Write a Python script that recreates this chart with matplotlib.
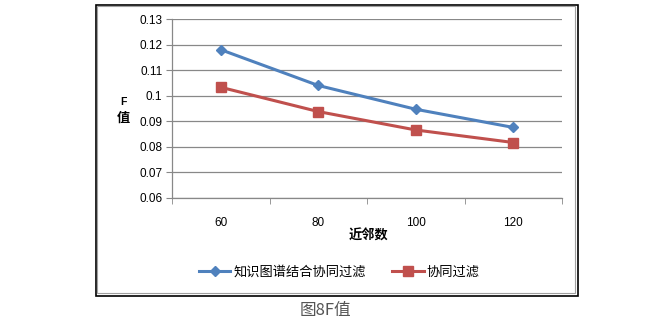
import matplotlib
matplotlib.use('Agg')
import matplotlib.pyplot as plt
from matplotlib.patches import Rectangle

# neighbour counts and F values for the two methods
neighbors = ['60', '80', '100', '120']
kg_cf = [0.118, 0.104, 0.0947, 0.0876]
cf = [0.1033, 0.0938, 0.0866, 0.0817]
yticks = [0.06, 0.07, 0.08, 0.09, 0.1, 0.11, 0.12, 0.13]
ytick_labels = ['0.06', '0.07', '0.08', '0.09', '0.1', '0.11', '0.12', '0.13']

CJK = ['Noto Sans CJK SC', 'DejaVu Sans']
NUM = ['Liberation Sans', 'DejaVu Sans']
W, H = 670, 324

fig = plt.figure(figsize=(W / 100, H / 100), dpi=100, facecolor='white')

# outer frame with a thin grey inner edge
fig.add_artist(Rectangle((96 / W, 1 - 296 / H), 482 / W, 291 / H, transform=fig.transFigure,
                         fill=False, edgecolor='black', lw=1.2))
fig.add_artist(Rectangle((97 / W, 1 - 293 / H), 478 / W, 287 / H, transform=fig.transFigure,
                         fill=False, edgecolor='#a0a0a0', lw=0.8))

ax = fig.add_axes([172 / W, 1 - 198 / H, 390 / W, 179 / H])
x = list(range(len(neighbors)))
ax.plot(x, kg_cf, color='#4F81BD', lw=2.2, marker='D', ms=5.5, label='知识图谱结合协同过滤')
ax.plot(x, cf, color='#C0504D', lw=2.2, marker='s', ms=6.5, label='协同过滤')

ax.set_xlim(-0.5, len(neighbors) - 0.5)
ax.set_ylim(0.06, 0.13)
ax.set_yticks(yticks)
ax.set_yticklabels(ytick_labels, family=NUM, fontsize=8.5)
ax.set_xticks(x)
ax.set_xticklabels(neighbors, family=NUM, fontsize=8.5)
ax.set_xticks([i - 0.5 for i in range(len(neighbors) + 1)], minor=True)
ax.tick_params(axis='x', which='major', length=0, pad=14)
ax.tick_params(axis='x', which='minor', length=4, color='#888888', direction='out')
ax.tick_params(axis='y', length=4, color='#888888', direction='out', pad=3)
ax.grid(axis='y', color='#888888', lw=0.9)
ax.set_axisbelow(True)
for side in ('top', 'right'):
    ax.spines[side].set_visible(False)
for side in ('left', 'bottom'):
    ax.spines[side].set_color('#888888')
    ax.spines[side].set_linewidth(0.9)

fig.text(123 / W, 1 - 102 / H, 'F', family=NUM, fontsize=7.5, fontweight='bold', ha='center', va='center')
fig.text(123 / W, 1 - 118 / H, '值', family=CJK, fontsize=9.5, fontweight='bold', ha='center', va='center')
fig.text(369 / W, 1 - 236 / H, '近邻数', family=CJK, fontsize=9.5, fontweight='bold', ha='center', va='center')

fig.legend(loc='center', bbox_to_anchor=(339 / W, 1 - 272 / H), ncol=2, frameon=False,
           prop={'family': CJK, 'size': 9.5}, handlelength=2.4, columnspacing=2.0, handletextpad=0.2)

fig.text(325 / W, 1 - 311 / H, '图8F值', family=CJK, fontsize=12, color='#555555', ha='center', va='center')

fig.savefig('out.png', dpi=100, facecolor='white')
